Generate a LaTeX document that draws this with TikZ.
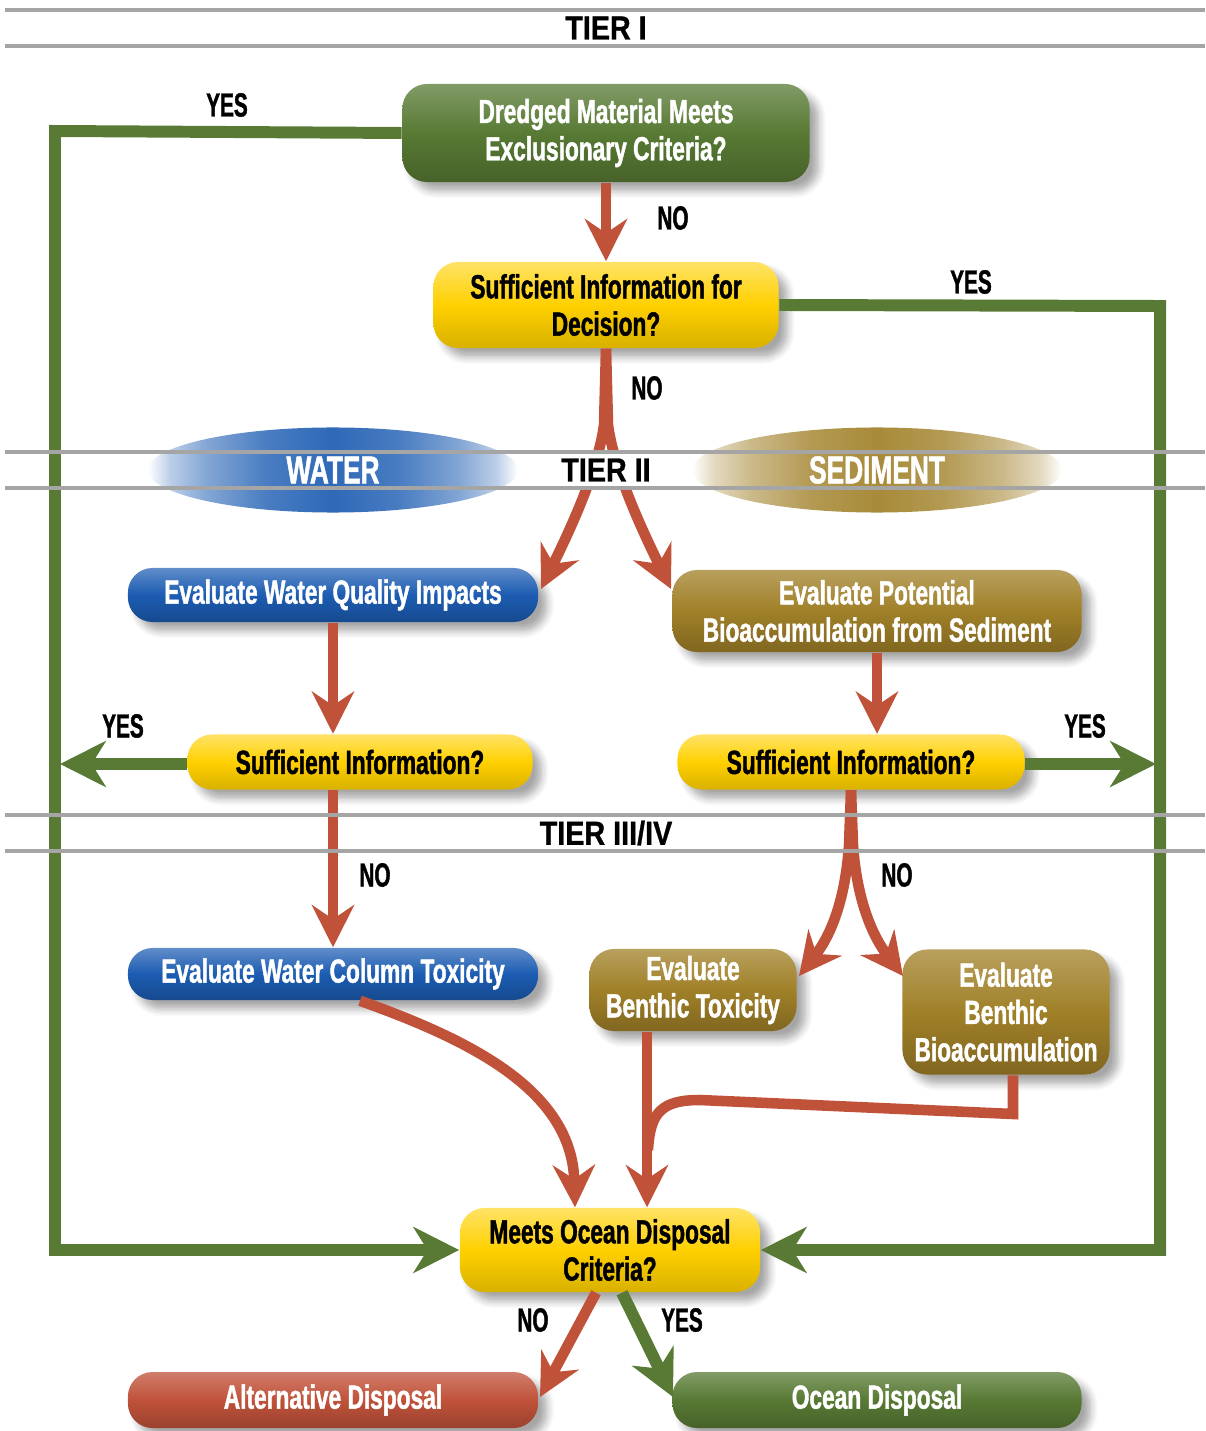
\documentclass[tikz,border=0pt]{standalone}
\usepackage{fontspec}
\setmainfont{Liberation Sans}[FakeStretch=0.68, BoldFeatures={FakeBold=1.3}]
\newfontfamily\tierfont{Liberation Sans}[FakeStretch=0.86, BoldFeatures={FakeBold=0.8}]
\newfontfamily\ynfont{Liberation Sans}[FakeStretch=0.62, BoldFeatures={FakeBold=1.2}]
\usetikzlibrary{arrows.meta,shapes.geometric,shadows.blur}

\definecolor{leafgreen}{RGB}{88,122,52}
\definecolor{gold}{RGB}{255,208,0}
\definecolor{seablue}{RGB}{28,92,178}
\definecolor{mudbrown}{RGB}{160,128,40}
\definecolor{rust}{RGB}{192,82,58}
\definecolor{tiergray}{RGB}{165,165,165}

\pgfdeclarehorizontalshading{waterfade}{100bp}{color(0bp)=(white); color(25bp)=(white); color(28bp)=(seablue!30!white); color(33bp)=(seablue!55!white); color(41bp)=(seablue!80!white); color(50bp)=(seablue!92!white); color(59bp)=(seablue!80!white); color(67bp)=(seablue!55!white); color(72bp)=(seablue!30!white); color(75bp)=(white); color(100bp)=(white)}
\pgfdeclarehorizontalshading{mudfade}{100bp}{color(0bp)=(white); color(25bp)=(white); color(28bp)=(mudbrown!30!white); color(33bp)=(mudbrown!55!white); color(41bp)=(mudbrown!80!white); color(50bp)=(mudbrown!92!white); color(59bp)=(mudbrown!80!white); color(67bp)=(mudbrown!55!white); color(72bp)=(mudbrown!30!white); color(75bp)=(white); color(100bp)=(white)}

\tikzset{
  box/.style={rounded corners=7pt, align=center, inner sep=1pt,
    font=\fontsize{9.5}{10.6}\selectfont\bfseries,
    blur shadow={shadow xshift=2.5pt, shadow yshift=-2.5pt, shadow blur steps=6, shadow opacity=35}},
  greenbox/.style={box, text=white, top color=leafgreen!75!white, bottom color=leafgreen!80!black, middle color=leafgreen},
  goldbox/.style={box, text=black, top color=gold!60!white, bottom color=gold!85!black, middle color=gold},
  bluebox/.style={box, text=white, top color=seablue!70!white, bottom color=seablue!80!black, middle color=seablue},
  mudbox/.style={box, text=white, top color=mudbrown!75!white, bottom color=mudbrown!80!black, middle color=mudbrown},
  rustbox/.style={box, text=white, top color=rust!75!white, bottom color=rust!80!black, middle color=rust},
  blob/.style={ellipse, minimum width=3.7cm, minimum height=0.85cm, text=white,
    font=\fontsize{11}{13}\selectfont\bfseries},
  tier/.style={font=\tierfont\fontsize{9.5}{11}\selectfont\bfseries, fill=white, inner xsep=3pt, inner ysep=1pt},
  yn/.style={font=\ynfont\fontsize{9.5}{11}\selectfont\bfseries},
  tierline/.style={draw=tiergray, line width=0.9pt},
  redarrow/.style={draw=rust, line width=3pt, -{Stealth[length=12pt, width=12pt, inset=4pt]}},
  greenline/.style={draw=leafgreen, line width=3.4pt},
  greenarrow/.style={greenline, -{Stealth[length=13pt, width=13pt, inset=4pt]}}
}

\begin{document}
\begin{tikzpicture}[x=0.01cm, y=-0.01cm]
    \useasboundingbox (0,0) rectangle (1205,1431);

    % water / sediment blobs
    \node [blob, shading=waterfade] (water) at (333,470) {WATER};
    \node [blob, shading=mudfade] (sediment) at (877,470) {SEDIMENT};

    % tier I
    \node [greenbox, minimum width=4.07cm, minimum height=0.98cm] (meets) at (606,133) {Dredged Material Meets\\Exclusionary Criteria?};
    \node [goldbox, minimum width=3.45cm, minimum height=0.86cm] (enough) at (606,305) {Sufficient Information for\\Decision?};

    % tier II
    \node [bluebox, minimum width=4.10cm, minimum height=0.54cm] (wqual) at (333,595) {Evaluate Water Quality Impacts};
    \node [mudbox, minimum width=4.09cm, minimum height=0.82cm] (sbio) at (877,611) {Evaluate Potential\\Bioaccumulation from Sediment};
    \node [goldbox, minimum width=3.45cm, minimum height=0.55cm] (winfo) at (360,762) {Sufficient Information?};
    \node [goldbox, minimum width=3.47cm, minimum height=0.55cm] (sinfo) at (851,762) {Sufficient Information?};

    % tier III/IV
    \node [bluebox, minimum width=4.10cm, minimum height=0.52cm] (wtox) at (333,974) {Evaluate Water Column Toxicity};
    \node [mudbox, minimum width=2.07cm, minimum height=0.82cm] (btox) at (693,990) {Evaluate\\Benthic Toxicity};
    \node [mudbox, minimum width=2.07cm, minimum height=1.25cm] (bbio) at (1006,1012) {Evaluate\\Benthic\\Bioaccumulation};

    % outcome
    \node [goldbox, minimum width=3.00cm, minimum height=0.84cm] (ocean) at (610,1250) {Meets Ocean Disposal\\Criteria?};
    \node [rustbox, minimum width=4.10cm, minimum height=0.56cm] (alt) at (333,1400) {Alternative Disposal};
    \node [greenbox, minimum width=4.09cm, minimum height=0.56cm] (disp) at (877,1400) {Ocean Disposal};

    % loose ends of the arrows
    \coordinate (wqtip) at (541,589);
    \coordinate (sbtip) at (671,589);
    \coordinate (wyes) at (60,764);
    \coordinate (syes) at (1156,764);
    \coordinate (bttip) at (799,976);
    \coordinate (bbtip) at (903,976);
    \coordinate (altip) at (540,1397);
    \coordinate (dstip) at (673,1397);

    % Now draw the lines:
    \draw [greenarrow] (meets.west) -- (55,131) |- (ocean.west);
    \draw [greenarrow] (enough.east) -- (1160,306) |- (ocean.east);
    \draw [greenarrow] (winfo.west |- wyes) -- (wyes);
    \draw [greenarrow] (sinfo.east |- syes) -- (syes);

    \draw [redarrow] (meets) -- (enough);
    \draw [redarrow] (enough.south) -- (604,425) .. controls (598,470) and (570,530) .. (wqtip);
    \draw [redarrow] (enough.south) -- (608,425) .. controls (614,470) and (642,530) .. (sbtip);
    \draw [redarrow] (wqual.south) -- (wqual.south |- winfo.north);
    \draw [redarrow] (sbio) -- (sbio.south |- sinfo.north);
    \draw [redarrow] (winfo.south -| wqual.south) -- (wtox);
    \draw [redarrow] (sinfo.south) -- (849,845) .. controls (846,890) and (835,930) .. (bttip);
    \draw [redarrow] (sinfo.south) -- (853,845) .. controls (856,890) and (868,930) .. (bbtip);
    \draw [redarrow] (wtox.south -| 360,0) .. controls (470,1040) and (572,1090) .. (ocean.north -| 575,0);
    \draw [redarrow] (btox.south -| 647,0) -- (ocean.north -| 647,0);
    \draw [rust, line width=3pt] (bbio.south -| 1013,0) -- (1013,1114) -- (700,1100) .. controls (662,1100) and (650,1112) .. (648,1150);
    \draw [redarrow] (ocean.south -| 596,0) -- (altip);
    \draw [greenarrow] (ocean.south -| 622,0) -- (dstip);

    % answers
    \node [yn] (y1) at (227,105) {YES};
    \node [yn] (n1) at (673,218) {NO};
    \node [yn] (y2) at (971,282) {YES};
    \node [yn] (n2) at (647,388) {NO};
    \node [yn] (y3) at (123,726) {YES};
    \node [yn] (y4) at (1085,726) {YES};
    \node [yn] (n3) at (375,875) {NO};
    \node [yn] (n4) at (897,875) {NO};
    \node [yn] (n5) at (533,1320) {NO};
    \node [yn] (y5) at (682,1320) {YES};

    % tiers
    \node [tier] (t1) at (606,28) {TIER I};
    \node [tier, minimum height=0.34cm] (t2) at (606,470) {TIER II};
    \node [tier] (t3) at (606,833) {TIER III/IV};
    \foreach \y in {10,46,452,488,815,851}
        \draw [tierline] (5,\y) -- (1205,\y);
\end{tikzpicture}
\end{document}
